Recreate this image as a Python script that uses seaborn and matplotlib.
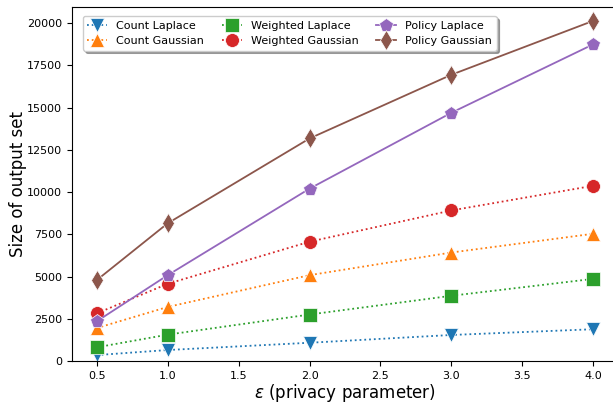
import matplotlib
matplotlib.use("Agg")
import matplotlib.pyplot as plt
import seaborn as sns
import pandas as pd

eps = [0.5, 1.0, 2.0, 3.0, 4.0]
count_laplace = [350, 650, 1080, 1540, 1880]
count_gaussian = [1950, 3200, 5080, 6420, 7530]
weighted_laplace = [810, 1560, 2750, 3860, 4860]
weighted_gaussian = [2820, 4570, 7060, 8910, 10370]
policy_laplace = [2350, 5080, 10200, 14690, 18740]
policy_gaussian = [4790, 8150, 13170, 16940, 20130]

series = [
    ("Count Laplace", count_laplace, "v", ":"),
    ("Count Gaussian", count_gaussian, "^", ":"),
    ("Weighted Laplace", weighted_laplace, "s", ":"),
    ("Weighted Gaussian", weighted_gaussian, "o", ":"),
    ("Policy Laplace", policy_laplace, "p", "-"),
    ("Policy Gaussian", policy_gaussian, "d", "-"),
]
colors = sns.color_palette("tab10", 6)

fig = plt.figure(figsize=(6.13, 4.04), dpi=100)
ax = fig.add_axes([72 / 613, 1 - 361 / 404, (618 - 72) / 613, (361 - 7) / 404])

for (name, vals, mk, ls), c in zip(series, colors):
    df = pd.DataFrame({"eps": eps, "size": vals})
    sns.lineplot(data=df, x="eps", y="size", ax=ax, color=c, marker=mk,
                 linestyle=ls, markersize=10, markeredgecolor="white",
                 markeredgewidth=0.5, label=name, linewidth=1.3)

ax.set_xlim(0.325, 4.175)
ax.set_ylim(0, 20950)
ax.set_xticks([0.5, 1.0, 1.5, 2.0, 2.5, 3.0, 3.5, 4.0])
ax.set_yticks([0, 2500, 5000, 7500, 10000, 12500, 15000, 17500, 20000])
ax.tick_params(labelsize=8)
ax.set_xlabel(r"$\varepsilon$ (privacy parameter)", fontsize=12, labelpad=1)
ax.set_ylabel("Size of output set", fontsize=12, labelpad=0)
ax.legend(loc="upper left", ncol=3, fontsize=8, shadow=True, fancybox=True,
          bbox_to_anchor=(0.01, 0.99), columnspacing=1.6, handlelength=1.8)

fig.savefig("out.png", dpi=100)
